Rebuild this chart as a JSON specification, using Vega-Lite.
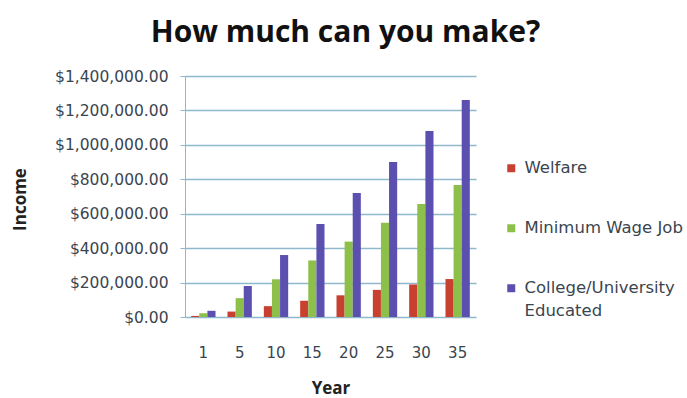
{
  "$schema": "https://vega.github.io/schema/vega-lite/v6.json",
  "width": 291,
  "height": 241,
  "autosize": "none",
  "padding": {"left": 185, "top": 76, "right": 211, "bottom": 81},
  "background": "white",
  "title": {
    "text": "How much can you make?",
    "font": "Open Sans",
    "fontSize": 30,
    "fontWeight": "bold",
    "color": "#111111",
    "anchor": "middle",
    "dx": 15,
    "offset": 21
  },
  "data": {
    "values": [
      {"Year": "1", "Type": "Welfare", "Income": 6300},
      {"Year": "1", "Type": "Minimum Wage Job", "Income": 21900},
      {"Year": "1", "Type": "College/University Educated", "Income": 36000},
      {"Year": "5", "Type": "Welfare", "Income": 31500},
      {"Year": "5", "Type": "Minimum Wage Job", "Income": 109500},
      {"Year": "5", "Type": "College/University Educated", "Income": 180000},
      {"Year": "10", "Type": "Welfare", "Income": 63000},
      {"Year": "10", "Type": "Minimum Wage Job", "Income": 219000},
      {"Year": "10", "Type": "College/University Educated", "Income": 360000},
      {"Year": "15", "Type": "Welfare", "Income": 94500},
      {"Year": "15", "Type": "Minimum Wage Job", "Income": 328500},
      {"Year": "15", "Type": "College/University Educated", "Income": 540000},
      {"Year": "20", "Type": "Welfare", "Income": 126000},
      {"Year": "20", "Type": "Minimum Wage Job", "Income": 438000},
      {"Year": "20", "Type": "College/University Educated", "Income": 720000},
      {"Year": "25", "Type": "Welfare", "Income": 157500},
      {"Year": "25", "Type": "Minimum Wage Job", "Income": 547500},
      {"Year": "25", "Type": "College/University Educated", "Income": 900000},
      {"Year": "30", "Type": "Welfare", "Income": 189000},
      {"Year": "30", "Type": "Minimum Wage Job", "Income": 657000},
      {"Year": "30", "Type": "College/University Educated", "Income": 1080000},
      {"Year": "35", "Type": "Welfare", "Income": 220500},
      {"Year": "35", "Type": "Minimum Wage Job", "Income": 766500},
      {"Year": "35", "Type": "College/University Educated", "Income": 1260000}
    ]
  },
  "mark": {"type": "bar"},
  "encoding": {
    "x": {
      "field": "Year",
      "type": "ordinal",
      "sort": null,
      "scale": {"paddingInner": 0.33, "paddingOuter": 0.17},
      "axis": {
        "title": "Year",
        "labelAngle": 0,
        "ticks": false,
        "domain": false,
        "labelPadding": 28,
        "labelFont": "DejaVu Sans",
        "labelFontSize": 15,
        "labelColor": "#3a4550",
        "titleFont": "Open Sans",
        "titleFontSize": 17,
        "titleFontWeight": "bold",
        "titleColor": "#222222",
        "titlePadding": 20
      }
    },
    "xOffset": {
      "field": "Type",
      "sort": ["Welfare", "Minimum Wage Job", "College/University Educated"],
      "scale": {"paddingInner": 0, "paddingOuter": 0}
    },
    "y": {
      "field": "Income",
      "type": "quantitative",
      "scale": {"domain": [0, 1400000]},
      "axis": {
        "title": "Income",
        "format": "$,.2f",
        "values": [0, 200000, 400000, 600000, 800000, 1000000, 1200000, 1400000],
        "labelOverlap": false,
        "grid": true,
        "gridColor": "#8fb8cc",
        "gridWidth": 1.5,
        "domainColor": "#8fb8cc",
        "tickColor": "#8fb8cc",
        "tickSize": 5,
        "labelPadding": 12,
        "labelFont": "DejaVu Sans",
        "labelFontSize": 15.5,
        "labelColor": "#3a4550",
        "titleFont": "Open Sans",
        "titleFontSize": 17,
        "titleFontWeight": "bold",
        "titleColor": "#222222",
        "titleX": -156,
        "titleY": 123
      }
    },
    "color": {
      "field": "Type",
      "type": "nominal",
      "sort": ["Welfare", "Minimum Wage Job", "College/University Educated"],
      "scale": {
        "domain": ["Welfare", "Minimum Wage Job", "College/University Educated"],
        "range": ["#c8402f", "#8dc04b", "#5b50b0"]
      },
      "legend": {
        "title": null,
        "orient": "none",
        "legendX": 318,
        "legendY": 84,
        "symbolType": "square",
        "symbolSize": 64,
        "symbolStrokeWidth": 0,
        "labelFont": "DejaVu Sans",
        "labelFontSize": 16.5,
        "labelColor": "#3a4550",
        "labelLimit": 300,
        "labelOffset": 5,
        "rowPadding": 43,
        "labelExpr": "datum.label == 'College/University Educated' ? ['College/University', 'Educated'] : datum.label"
      }
    }
  },
  "config": {
    "view": {"stroke": null},
    "style": {"guide-label": {"lineHeight": 23}}
  }
}
